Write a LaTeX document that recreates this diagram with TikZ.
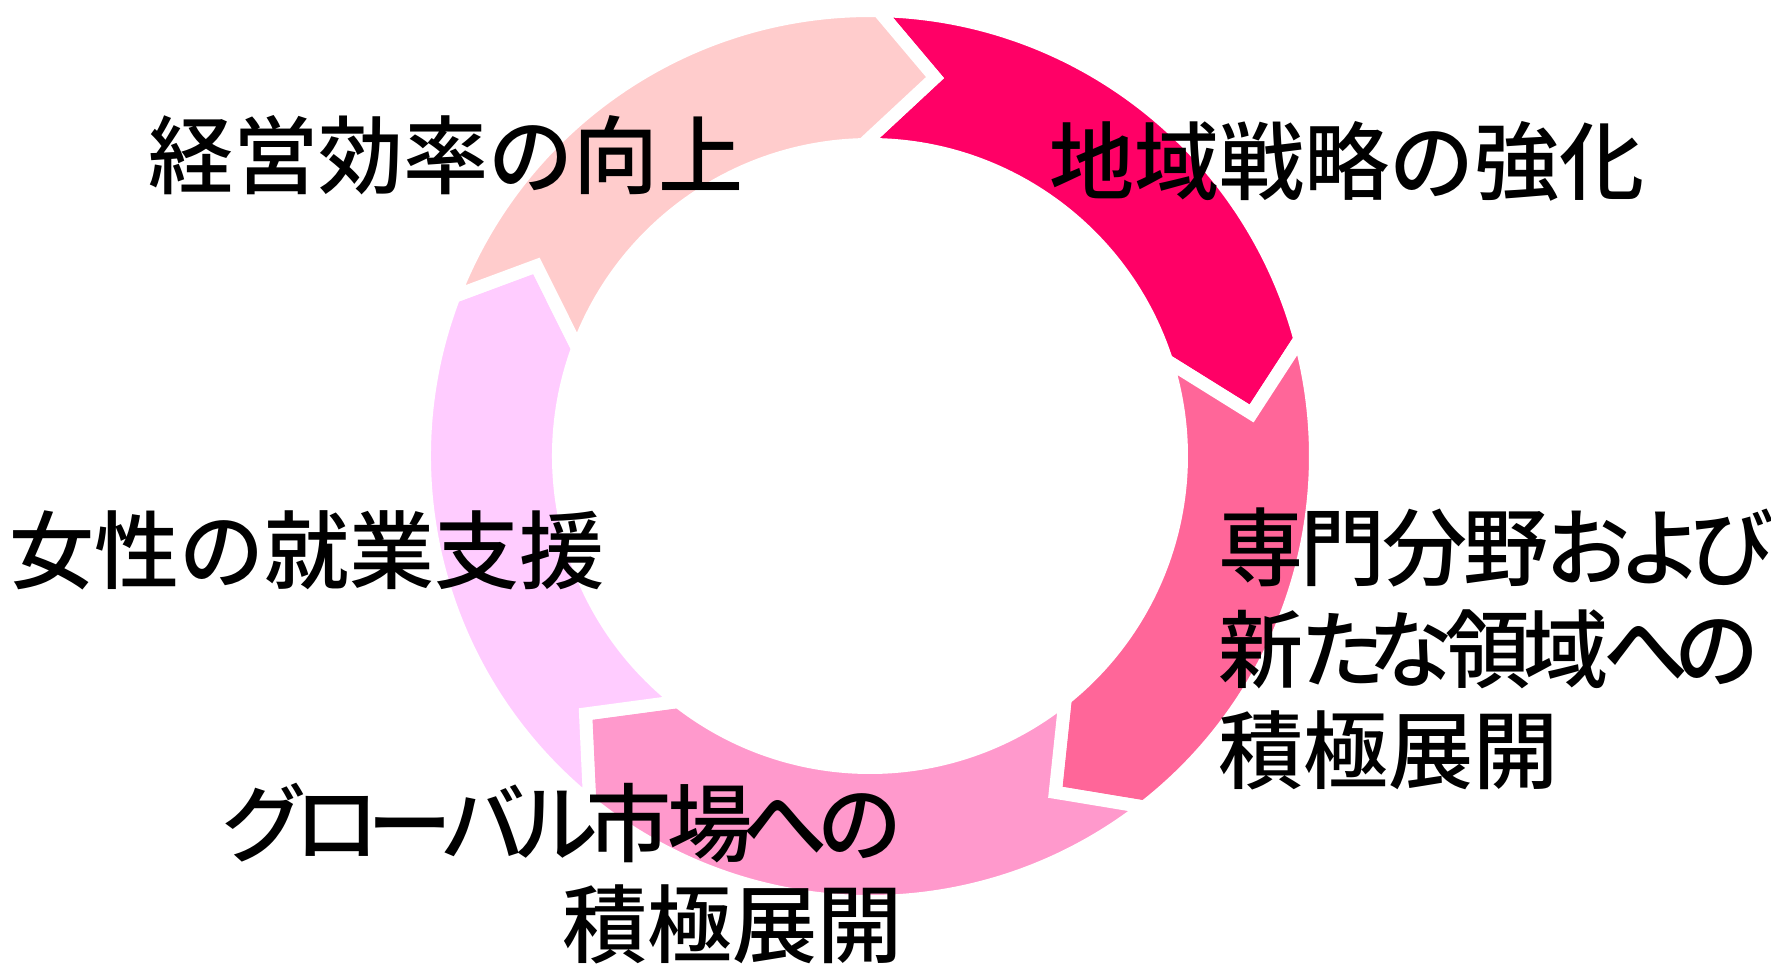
\documentclass[tikz,border=0pt]{standalone}
\usepackage{fontspec}
\font\jpfont="Noto Sans CJK JP Medium" at 24.2pt
\usepackage{tikz}
\usetikzlibrary{positioning}
\definecolor{segA}{HTML}{FF0066}
\definecolor{segB}{HTML}{FF6699}
\definecolor{segC}{HTML}{FF99CC}
\definecolor{segD}{HTML}{FFCCFF}
\definecolor{segE}{HTML}{FFCCCC}
\newcommand\tk[1]{\kern-#1em }
\begin{document}
\begin{tikzpicture}[seg/.style={draw=white, line width=0.13cm, line join=miter},
    txt/.style={font=\fontsize{24.2pt}{28.8pt}\selectfont\jpfont, inner sep=0pt}]
    \useasboundingbox (-8.70,-5.07) rectangle (9.01,4.56);
    \filldraw[seg, fill=segA] (88.9:4.455) arc[start angle=88.9, end angle=15.2, radius=4.455] -- (6.35:3.84) -- (17.85:3.115) arc[start angle=17.85, end angle=91.3, radius=3.115] -- (80.25:3.84) -- cycle;
    \filldraw[seg, fill=segB] (15.2:4.455) arc[start angle=15.2, end angle=-52, radius=4.455] -- (-61.15:3.84) -- (-51.2:3.115) arc[start angle=-51.2, end angle=17.85, radius=3.115] -- (6.35:3.84) -- cycle;
    \filldraw[seg, fill=segC] (-52:4.455) arc[start angle=-52, end angle=-129, radius=4.455] -- (-137.8:3.84) -- (-128:3.115) arc[start angle=-128, end angle=-51.2, radius=3.115] -- (-61.15:3.84) -- cycle;
    \filldraw[seg, fill=segD] (-129:4.455) arc[start angle=-129, end angle=-201, radius=4.455] -- (-209.7:3.84) -- (-200.2:3.115) arc[start angle=-200.2, end angle=-128, radius=3.115] -- (-137.8:3.84) -- cycle;
    \filldraw[seg, fill=segE] (159:4.455) arc[start angle=159, end angle=88.9, radius=4.455] -- (80.25:3.84) -- (91.3:3.115) arc[start angle=91.3, end angle=159.8, radius=3.115] -- (150.3:3.84) -- cycle;
    \node(strategy) [txt] at (4.77,2.95) {地域戦略の強化};
    \node(fields) [txt, align=left, anchor=west] at (3.48,-1.93) {専\tk{0.04}門\tk{0.04}分\tk{0.04}野\tk{0.04}お\tk{0.14}よ\tk{0.16}び\\新\tk{0.04}た\tk{0.2}な\tk{0.1}領\tk{0.08}域\tk{0.05}へ\tk{0.17}の\\積極展開};
    \node(global) [txt, align=right, anchor=east] at (0.33,-4.175) {グ\tk{0.14}ロ\tk{0.14}ー\tk{0.14}バ\tk{0.14}ル\tk{0.14}市\tk{0.05}場\tk{0.12}へ\tk{0.12}の\\積極展開};
    \node(women) [txt] at (-5.63,-0.94) {女性の就業支援};
    \node(efficiency) [txt] at (-4.24,3.01) {経営効率の向上};
\end{tikzpicture}
\end{document}
